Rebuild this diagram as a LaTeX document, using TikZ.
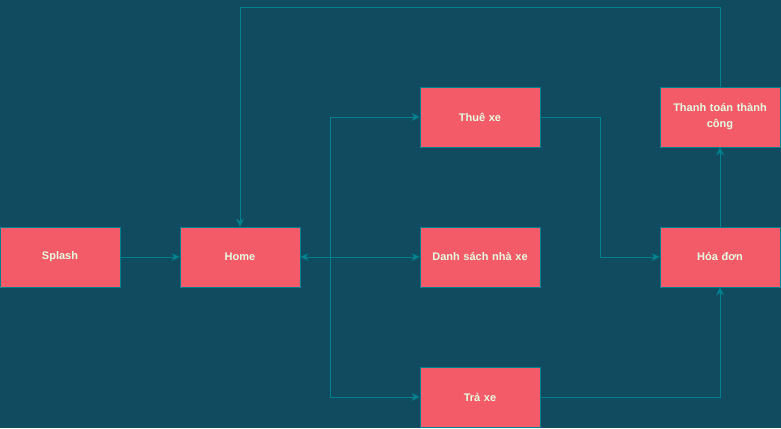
\documentclass[tikz,border=0pt]{standalone}
\usepackage{fontspec}
\setmainfont{Liberation Sans}
\usetikzlibrary{arrows.meta}
\definecolor{bg}{HTML}{114B5F}
\definecolor{boxfill}{HTML}{F45B69}
\definecolor{edge}{HTML}{028090}
\definecolor{txt}{HTML}{E4FDE1}
\begin{document}
\begin{tikzpicture}[x=1pt,y=-1pt,
  box/.style={draw=edge, line width=0.8pt, fill=boxfill, minimum width=120pt, minimum height=60pt, inner sep=0pt, text=txt, font=\bfseries\fontsize{11}{16}\selectfont, align=center, text width=112pt},
  conn/.style={draw=edge, line width=0.8pt, -{Stealth[length=8pt,width=8pt,inset=2.5pt]}},
  conn2/.style={draw=edge, line width=0.8pt, {Stealth[length=8pt,width=8pt,inset=2.5pt]}-{Stealth[length=8pt,width=8pt,inset=2.5pt]}}]
\fill[bg] (0,0) rectangle (781,428);
\useasboundingbox (0,0) rectangle (781,428);
\node[box] (splash) at (60,257) {Splash};
\node[box] (home) at (240,257) {Home};
\node[box] (thue) at (480,117) {Thuê xe};
\node[box] (ds) at (480,257) {Danh sách nhà xe};
\node[box] (tra) at (480,397) {Trả xe};
\node[box] (hd) at (720,257) {Hóa đơn};
\node[box] (tt) at (720,117) {Thanh toán thành\\công};
\coordinate (bx) at (330,257);
\draw[conn] (splash) -- (home);
\draw[conn2] (home) -- (ds);
\draw[conn] (bx) |- (thue.west);
\draw[conn] (bx) |- (tra.west);
\draw[conn] (thue.east) -- (600,117) |- (hd.west);
\draw[conn] (tra.east) -| (hd.south);
\draw[conn] (hd) -- (tt);
\draw[conn] (tt.north) |- (240,7) -- (home.north);
\end{tikzpicture}
\end{document}
